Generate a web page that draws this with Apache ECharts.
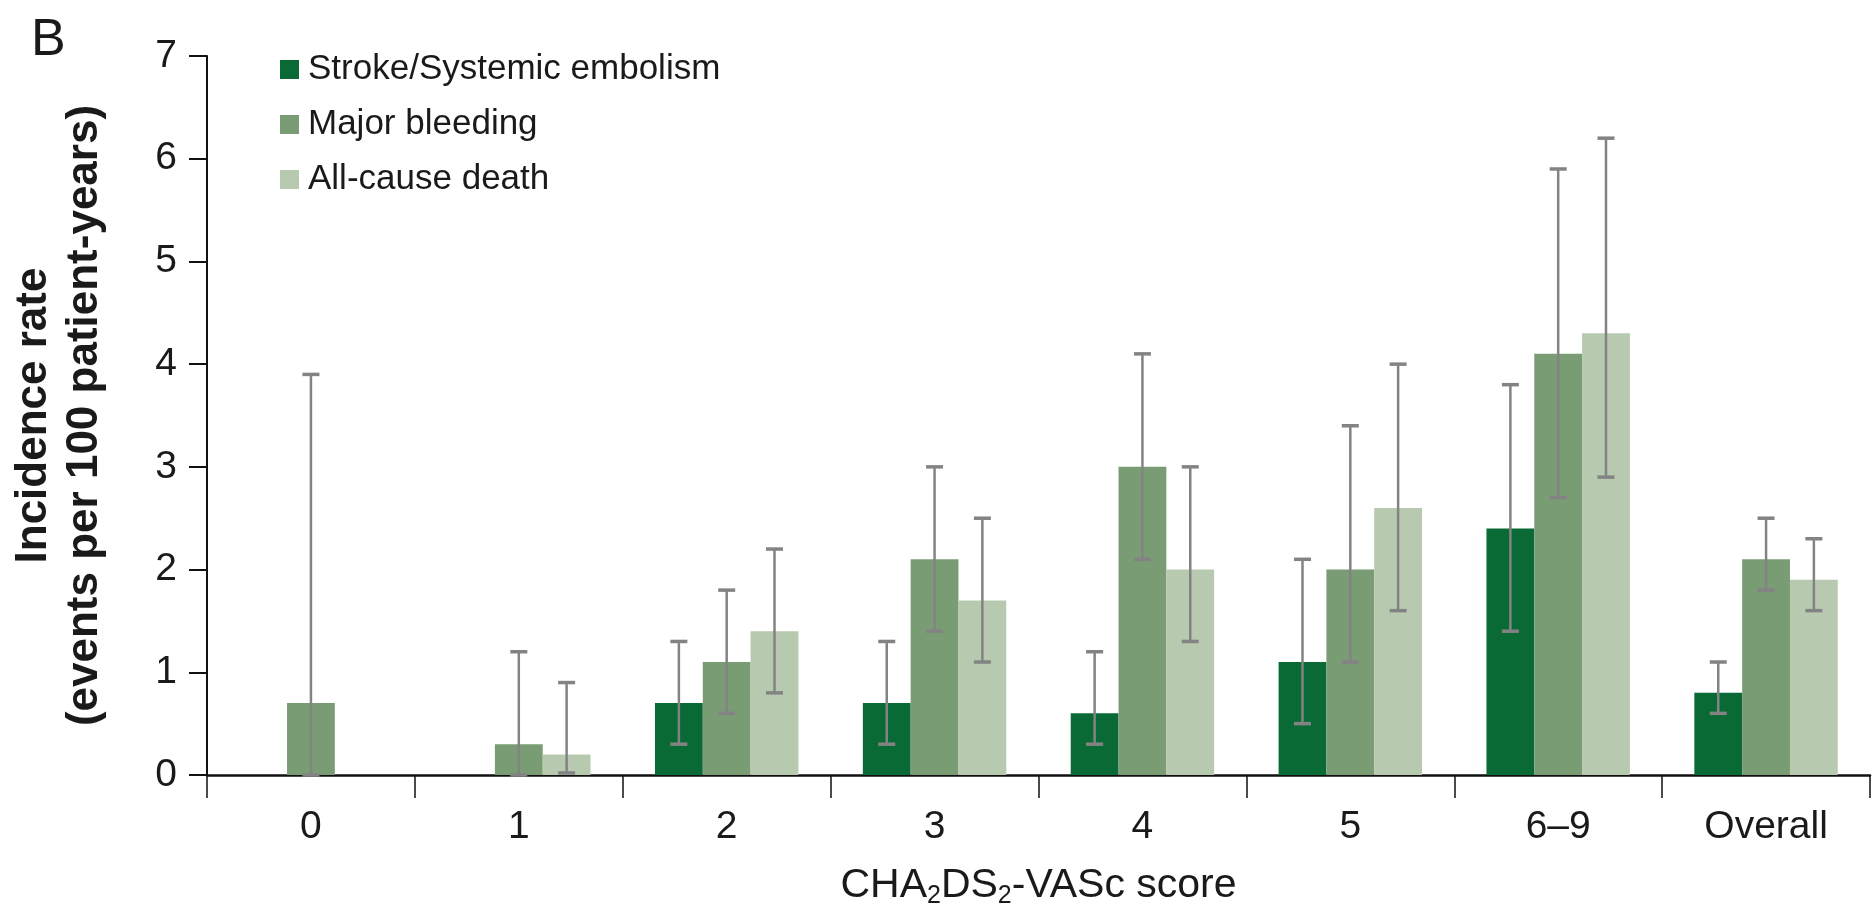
<!DOCTYPE html>
<html>
<head>
<meta charset="utf-8">
<script src="https://cdn.jsdelivr.net/npm/echarts@6/dist/echarts.min.js"></script>
<style>
html,body{margin:0;padding:0;background:#fff;}
#chart{width:1872px;height:914px;}
</style>
</head>
<body>
<div id="chart"></div>
<script>
// ---- data ----
var categories = ['0', '1', '2', '3', '4', '5', '6\u20139', 'Overall'];
var seriesNames = ['Stroke/Systemic embolism', 'Major bleeding', 'All-cause death'];
var strokeRate = [null, null, 0.7, 0.7, 0.6, 1.1, 2.4, 0.8];
var strokeLow  = [null, null, 0.3, 0.3, 0.3, 0.5, 1.4, 0.6];
var strokeHigh = [null, null, 1.3, 1.3, 1.2, 2.1, 3.8, 1.1];
var bleedRate  = [0.7, 0.3, 1.1, 2.1, 3.0, 2.0, 4.1, 2.1];
var bleedLow   = [0.0, 0.0, 0.6, 1.4, 2.1, 1.1, 2.7, 1.8];
var bleedHigh  = [3.9, 1.2, 1.8, 3.0, 4.1, 3.4, 5.9, 2.5];
var deathRate  = [null, 0.2, 1.4, 1.7, 2.0, 2.6, 4.3, 1.9];
var deathLow   = [null, 0.02, 0.8, 1.1, 1.3, 1.6, 2.9, 1.6];
var deathHigh  = [null, 0.9, 2.2, 2.5, 3.0, 4.0, 6.2, 2.3];
var yTicks = [0, 1, 2, 3, 4, 5, 6, 7];

// ---- styling ----
var colors = ['#0a6a35', '#7a9c75', '#b7c9af'];
var font = "'Liberation Sans', Arial, Helvetica, sans-serif";
var CATGAP = 0.31;

var rates = [strokeRate, bleedRate, deathRate];
var lows = [strokeLow, bleedLow, deathLow];
var highs = [strokeHigh, bleedHigh, deathHigh];

var errData = [];
for (var s = 0; s < 3; s++) {
  for (var c = 0; c < categories.length; c++) {
    if (lows[s][c] != null && highs[s][c] != null) {
      errData.push([c, s, lows[s][c], highs[s][c]]);
    }
  }
}

function renderErr(params, api) {
  var c = api.value(0), s = api.value(1);
  var lo = api.coord([c, api.value(2)]);
  var hi = api.coord([c, api.value(3)]);
  var band = api.size([1, 0])[0];
  var bw = band * (1 - CATGAP) / 3;
  var x = lo[0] + (s - 1) * bw;
  var cap = 8.5;
  var st = {stroke: '#838383', lineWidth: 2.5};
  var cst = {stroke: '#838383', lineWidth: 3.5};
  return {
    type: 'group',
    children: [
      {type: 'line', shape: {x1: x, y1: lo[1], x2: x, y2: hi[1]}, style: st},
      {type: 'line', shape: {x1: x - cap, y1: hi[1], x2: x + cap, y2: hi[1]}, style: cst},
      {type: 'line', shape: {x1: x - cap, y1: lo[1], x2: x + cap, y2: lo[1]}, style: cst}
    ]
  };
}

var barSeries = seriesNames.map(function (n, i) {
  return {
    name: n,
    type: 'bar',
    data: rates[i],
    barGap: '0%',
    barCategoryGap: (CATGAP * 100) + '%',
    itemStyle: {color: colors[i]},
    z: 2
  };
});

var chart = echarts.init(document.getElementById('chart'), null, {renderer: 'canvas'});
chart.setOption({
  animation: false,
  backgroundColor: '#ffffff',
  color: colors,
  title: {
    text: 'B',
    left: 26,
    top: 10,
    textStyle: {fontFamily: font, fontSize: 52, fontWeight: 'normal', color: '#1a1a1a'}
  },
  legend: {
    orient: 'vertical',
    left: 275,
    top: 47,
    itemWidth: 19,
    itemHeight: 19,
    itemGap: 20,
    icon: 'rect',
    data: seriesNames,
    textStyle: {fontFamily: font, fontSize: 35, lineHeight: 35, color: '#1a1a1a', padding: [0, 0, 0, 4]}
  },
  grid: {left: 205, right: 2, top: 56, bottom: 135, containLabel: false},
  xAxis: {
    type: 'category',
    data: categories,
    name: 'CHA{sub|2}DS{sub|2}-VASc score',
    nameLocation: 'middle',
    nameGap: 88,
    nameTextStyle: {
      fontFamily: font, fontSize: 41, lineHeight: 46, color: '#1a1a1a',
      rich: {sub: {fontFamily: font, fontSize: 25, lineHeight: 25, verticalAlign: 'bottom', color: '#1a1a1a'}}
    },
    axisLine: {lineStyle: {color: '#111', width: 2.5}},
    axisTick: {show: true, length: 23, lineStyle: {color: '#111', width: 1.5}},
    axisLabel: {fontFamily: font, fontSize: 39, color: '#1a1a1a', margin: 33},
    splitLine: {show: false}
  },
  yAxis: {
    type: 'value',
    min: yTicks[0],
    max: yTicks[yTicks.length - 1],
    interval: 1,
    name: 'Incidence rate\n(events per 100 patient-years)',
    nameLocation: 'middle',
    nameGap: 97,
    nameTextStyle: {fontFamily: font, fontSize: 44, fontWeight: 'bold', lineHeight: 51, color: '#1a1a1a', align: 'center'},
    axisLine: {show: true, lineStyle: {color: '#111', width: 2}},
    axisTick: {show: true, length: 18, lineStyle: {color: '#111', width: 2}},
    axisLabel: {fontFamily: font, fontSize: 39, color: '#1a1a1a', margin: 30},
    splitLine: {show: false}
  },
  series: barSeries.concat([{
    name: 'CI',
    type: 'custom',
    renderItem: renderErr,
    data: errData,
    encode: {x: 0, y: [2, 3]},
    z: 5,
    silent: true
  }])
});
</script>
</body>
</html>
